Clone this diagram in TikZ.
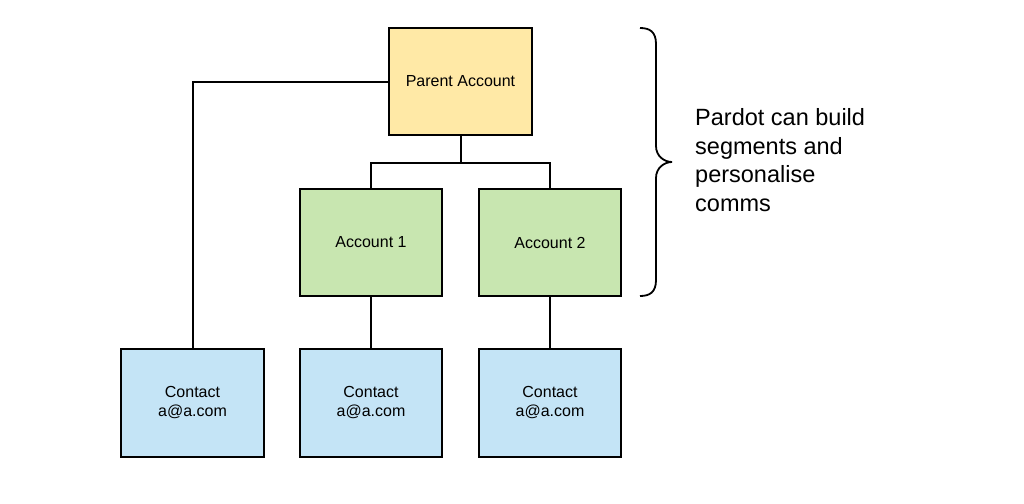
\documentclass[tikz,border=0pt]{standalone}
\usepackage{fontspec}
\setmainfont{Liberation Sans}
\definecolor{yel}{HTML}{FFE9A6}
\definecolor{grn}{HTML}{C8E6B0}
\definecolor{blu}{HTML}{C4E4F6}
\begin{document}
\begin{tikzpicture}[x=1pt,y=-1pt,
  box/.style={draw=black,line width=2pt,minimum width=142pt,minimum height=107pt,inner sep=0pt,align=center,font=\fontsize{16pt}{19pt}\selectfont},
  conn/.style={line width=2pt,draw=black}]
\useasboundingbox[fill=white] (0,0) rectangle (1024,503);
\node[box,fill=yel,minimum width=143pt] (parent) at (460.5,81.5) {Parent Account};
\node[box,fill=grn] (a1) at (371,242.5) {Account 1};
\node[box,fill=grn] (a2) at (550,242.5) {Account 2};
\node[box,fill=blu,minimum width=143pt,minimum height=108pt] (c1) at (192.5,403) {Contact\\a@a.com};
\node[box,fill=blu,minimum height=108pt] (c2) at (371,403) {Contact\\a@a.com};
\node[box,fill=blu,minimum height=108pt] (c3) at (550,403) {Contact\\a@a.com};
\coordinate (j) at (460.5,162.5);
\draw[conn] (parent.west) -| (c1.north);
\draw[conn] (parent.south) -- (j);
\draw[conn] (a1.north) |- (j) -| (a2.north);
\draw[conn] (a1.south) -- (c2.north);
\draw[conn] (a2.south) -- (c3.north);
\draw[line width=1.8pt] (640,28) .. controls (650,28) and (656,32) .. (656,44) -- (656,146) .. controls (656,156) and (664,162) .. (672,162) .. controls (664,162) and (656,168) .. (656,178) -- (656,280) .. controls (656,292) and (650,296) .. (640,296);
\node[anchor=west,align=left,inner sep=0pt,font=\fontsize{23.5pt}{28.5pt}\selectfont] (txt) at (695,160) {Pardot can build\\segments and\\personalise\\comms};
\end{tikzpicture}
\end{document}
